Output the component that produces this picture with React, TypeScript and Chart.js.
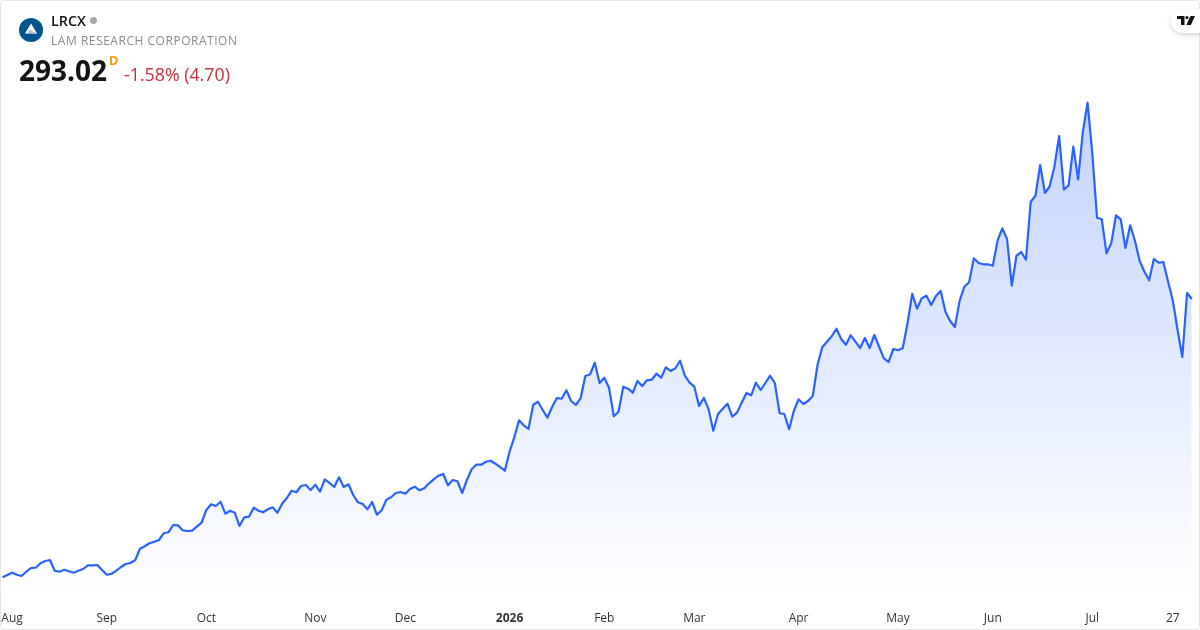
import React, { useEffect, useRef } from "react";
import { Chart, registerables } from "chart.js";

Chart.register(...registerables);

const closePrices: number[] = [
  98.2, 99.8, 101.4, 100.0, 99.1, 102.1, 104.7, 104.9, 108.0, 109.6,
  110.3, 102.8, 102.1, 103.5, 102.4, 101.4, 102.8, 104.0, 106.6, 106.6,
  106.8, 103.3, 100.0, 100.7, 102.8, 105.4, 107.5, 108.2, 110.3, 118.2,
  119.9, 122.0, 123.1, 124.3, 129.0, 129.7, 134.8, 134.6, 131.1, 130.6,
  130.8, 133.6, 136.4, 145.3, 149.3, 148.1, 151.1, 142.7, 144.8, 143.4,
  134.1, 140.2, 140.6, 146.9, 144.8, 143.7, 145.8, 147.2, 143.4, 149.7,
  153.7, 158.8, 157.7, 162.1, 162.8, 159.3, 163.0, 158.1, 166.8, 164.2,
  161.4, 168.2, 161.4, 163.3, 155.8, 150.7, 149.5, 145.8, 150.9, 142.0,
  145.1, 152.5, 154.2, 157.2, 157.9, 156.7, 160.0, 161.6, 159.1, 160.5,
  164.0, 166.8, 169.3, 170.5, 162.6, 166.3, 165.4, 157.2, 166.3, 173.8,
  177.0, 177.0, 179.1, 179.8, 177.7, 175.4, 172.8, 186.1, 196.2, 208.1,
  204.6, 202.0, 219.0, 221.1, 215.3, 209.9, 217.6, 223.7, 223.2, 229.1,
  221.6, 218.8, 223.5, 239.1, 240.3, 248.4, 234.2, 237.9, 230.9, 210.9,
  214.1, 231.6, 230.2, 227.4, 235.6, 232.1, 236.1, 236.5, 240.7, 237.9,
  245.2, 242.6, 244.5, 249.8, 239.3, 234.4, 231.6, 218.1, 223.7, 216.0,
  200.8, 212.5, 216.2, 219.7, 210.6, 213.4, 220.4, 227.2, 225.6, 234.4,
  229.3, 234.2, 239.3, 234.0, 213.0, 212.5, 201.8, 214.6, 222.8, 219.5,
  221.6, 225.1, 246.8, 259.2, 263.1, 266.9, 272.2, 265.0, 261.0, 267.6,
  263.1, 258.7, 265.7, 258.7, 267.8, 259.6, 251.5, 248.9, 258.0, 257.1,
  258.7, 276.0, 296.7, 286.2, 293.5, 295.3, 288.8, 295.1, 298.6, 284.1,
  277.6, 273.4, 291.8, 301.6, 304.7, 321.5, 318.2, 317.3, 317.3, 316.3,
  333.8, 342.5, 335.0, 302.3, 323.3, 325.9, 320.5, 361.1, 365.3, 386.8,
  367.2, 371.9, 385.6, 407.1, 369.5, 372.6, 399.6, 376.8, 409.7, 430.4,
  395.0, 349.9, 348.8, 325.0, 332.0, 351.6, 348.8, 328.7, 344.6, 333.8,
  319.6, 312.1, 306.1, 321.0, 318.4, 318.9, 305.1, 291.8, 271.3, 252.4,
  297.2, 293.02,
];

const tickTexts: string[] = ["Aug", "Sep", "Oct", "Nov", "Dec", "2026", "Feb", "Mar", "Apr", "May", "Jun", "Jul", "27"];
const tickIndexes: number[] = [2, 22, 43, 66, 85, 107, 127, 146, 168, 189, 209, 230, 247];

const categories: string[] = closePrices.map((_, i) => {
  const at = tickIndexes.indexOf(i);
  return at >= 0 ? tickTexts[at] : "";
});

const FONT = '"Open Sans", "Noto Sans", sans-serif';
const LINE = "#2962ff";

export default function App() {
  const ref = useRef<HTMLCanvasElement>(null);

  useEffect(() => {
    if (!ref.current) return;
    const chart = new Chart(ref.current, {
      type: "line",
      data: {
        labels: categories,
        datasets: [
          {
            data: closePrices,
            borderColor: LINE,
            borderWidth: 2.2,
            pointRadius: 0,
            pointHoverRadius: 0,
            tension: 0,
            fill: "start",
            borderJoinStyle: "round",
            backgroundColor: (c: any) => {
              const { chart: ch } = c;
              const area = ch.chartArea;
              if (!area) return "rgba(41,98,255,0.1)";
              const top = ch.scales.y.getPixelForValue(Math.max(...closePrices));
              const g = ch.ctx.createLinearGradient(0, top, 0, area.bottom);
              g.addColorStop(0, "rgba(41,98,255,0.28)");
              g.addColorStop(1, "rgba(41,98,255,0.0)");
              return g;
            },
          },
        ],
      },
      options: {
        animation: false,
        responsive: false,
        devicePixelRatio: 1,
        layout: { padding: { left: 2.6, right: 8.2, top: 0, bottom: 0 } },
        plugins: { legend: { display: false }, tooltip: { enabled: false } },
        scales: {
          x: {
            type: "category",
            offset: false,
            grid: { display: false, drawTicks: false },
            border: { display: false },
            afterFit: (s: any) => {
              s.height = 30;
              s.paddingLeft = 0;
              s.paddingRight = 0;
            },
            ticks: {
              autoSkip: false,
              maxRotation: 0,
              minRotation: 0,
              padding: 11,
              color: "#333333",
              font: (c: any) => ({
                family: FONT,
                size: 12,
                weight: c.tick && c.tick.label === "2026" ? "bold" : "normal",
              }),
              callback: (v: any) => categories[v as number],
            },
          },
          y: { display: false, min: 82.3, max: 502.3 },
        },
      },
    } as any);
    return () => chart.destroy();
  }, []);

  return (
    <div style={{ position: "fixed", left: 0, top: 0, width: 1200, height: 630, background: "#fff", overflow: "hidden", fontFamily: FONT }}>
      <canvas ref={ref} width={1200} height={630} style={{ position: "absolute", left: 0, top: 0, width: 1200, height: 630 }} />
      <div style={{ position: "absolute", inset: 0, boxSizing: "border-box", border: "1px solid #e6e6e6", borderRadius: 4, pointerEvents: "none" }} />

      <svg width="24" height="24" viewBox="0 0 24 24" style={{ position: "absolute", left: 19, top: 18 }}>
        <circle cx="12" cy="12" r="12" fill="#00568c" />
        <path d="M12 5.5 18 15.5 H6 Z" fill="#ffffff" />
        <path d="M10.5 11.5 18 15.5 H8.5 Z" fill="#a9c6dd" />
      </svg>

      <div style={{ position: "absolute", left: 51, top: 12, fontSize: 14.3, lineHeight: "18px", fontWeight: 600, color: "#131313" }}>LRCX</div>
      <div style={{ position: "absolute", left: 90, top: 17, width: 7, height: 7, borderRadius: "50%", background: "#a8a8a8" }} />
      <div style={{ position: "absolute", left: 51, top: 32, fontSize: 12, lineHeight: "18px", letterSpacing: 0.53, color: "#8a8a8a", whiteSpace: "nowrap" }}>LAM RESEARCH CORPORATION</div>
      <div style={{ position: "absolute", left: 19, top: 51, fontSize: 28, lineHeight: "38px", fontWeight: 700, color: "#131313" }}>293.02</div>
      <div style={{ position: "absolute", left: 109, top: 54, fontSize: 12.5, lineHeight: "14px", fontWeight: 700, color: "#ff9800" }}>D</div>
      <div style={{ position: "absolute", left: 124, top: 61, fontSize: 17.8, lineHeight: "26px", color: "#cc2f3c", whiteSpace: "nowrap" }}>-1.58% (4.70)</div>

      <div style={{ position: "absolute", left: 1171, top: 9, width: 44, height: 24, borderRadius: 12, background: "#fff", boxShadow: "0 2px 5px rgba(0,0,0,0.18)" }} />
      <svg width="18" height="10" viewBox="0 0 18 10" style={{ position: "absolute", left: 1177, top: 16 }}>
        <path d="M0 0 H7.5 V9 H4 V3 H0 Z" fill="#131313" />
        <circle cx="10" cy="1.6" r="1.6" fill="#131313" />
        <path d="M13.5 0 H18 L13.8 9 H9.3 Z" fill="#131313" />
      </svg>
    </div>
  );
}
